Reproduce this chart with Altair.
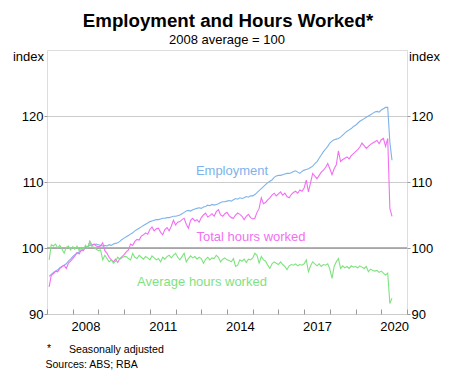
import altair as alt
import pandas as pd

FONT = "Liberation Sans"

series_names = ["Employment", "Total hours worked", "Average hours worked"]
series_colors = ["#7db3ec", "#f26ff2", "#7fe27f"]

start_year = 2007
year_ticks = list(range(2007, 2022))
y_ticks = [90, 100, 110, 120]

employment = [
    95.7, 96.0, 96.3, 96.5, 96.7, 97.0, 97.2, 97.4, 97.6, 98.0, 98.3, 98.7,
    99.0, 99.2, 99.4, 99.6, 99.8, 100.0, 100.2, 100.4, 100.5, 100.5, 100.6, 100.5,
    100.4, 100.3, 100.4, 100.3, 100.5, 100.4, 100.6, 100.7, 100.8, 101.0, 101.3, 101.5,
    101.7, 101.9, 102.1, 102.3, 102.6, 102.8, 103.0, 103.2, 103.4, 103.6, 103.8, 104.0,
    104.1, 104.2, 104.3, 104.3, 104.4, 104.5, 104.5, 104.6, 104.6, 104.7, 104.8, 104.8,
    104.9, 105.0, 105.2, 105.4, 105.6, 105.7, 105.6, 105.8, 105.9, 106.0, 106.1, 106.0,
    106.2, 106.3, 106.5, 106.4, 106.6, 106.5, 106.6, 106.7, 106.9, 107.0, 107.0, 107.1,
    107.2, 107.1, 107.3, 107.5, 107.4, 107.6, 107.5, 107.6, 107.8, 107.7, 107.9, 107.9,
    108.1, 108.4, 108.7, 109.0, 109.3, 109.6, 109.9, 110.1, 110.3, 110.7, 110.9, 111.0,
    111.0, 111.1, 111.2, 111.3, 111.3, 111.4, 111.6, 111.7, 111.5, 111.3, 111.6, 111.8,
    111.9, 112.0, 112.2, 112.4, 112.8, 113.1, 113.6, 114.1, 114.6, 115.0, 115.4, 115.9,
    116.2, 116.4, 116.5, 116.6, 116.8, 117.1, 117.4, 117.7, 117.9, 118.1, 118.4, 118.6,
    118.9, 119.2, 119.4, 119.6, 119.8, 120.0, 120.2, 120.4, 120.6, 120.7, 120.6, 120.9,
    121.1, 121.3, 121.3, 116.0, 113.3,
]

total_hours = [
    94.1, 95.9, 96.1, 96.5, 96.4, 96.9, 97.2, 97.4, 96.9, 97.7, 98.0, 98.4,
    98.8, 99.3, 99.1, 99.7, 99.6, 100.2, 100.1, 101.0, 100.4, 100.6, 100.3, 100.2,
    100.3, 100.8, 99.6, 99.2, 98.6, 98.2, 97.9, 98.3, 97.8, 98.4, 98.7, 99.0,
    99.4, 99.7, 100.6, 100.4, 101.0, 101.3, 101.2, 101.8, 102.0, 102.3, 102.1, 102.8,
    103.2, 102.6, 102.9, 103.0, 102.4, 102.0, 102.8, 103.1, 102.6, 103.3, 104.2, 103.5,
    103.9, 104.0, 104.3, 104.5, 103.6, 103.0, 104.2, 104.5, 104.1, 104.3, 103.9, 104.6,
    105.0, 105.3, 104.7, 104.9, 105.2, 104.8, 105.5, 105.8, 105.0, 104.8, 105.2, 105.4,
    104.9, 104.6, 104.5, 105.0, 105.3, 105.1, 104.8, 104.3, 104.8, 105.1, 104.6, 104.4,
    104.5, 105.4, 106.0, 107.6, 106.7, 106.9, 107.3, 107.6, 108.0, 108.3, 107.9, 108.2,
    108.5, 108.0, 108.3, 107.8, 107.6, 108.1, 108.4, 108.6, 108.3, 108.8, 108.6, 109.1,
    110.3, 108.5, 109.9, 111.3, 110.9, 110.5, 111.0, 111.5, 111.8, 112.2, 112.8, 112.0,
    111.1, 112.0, 112.6, 114.7, 113.1, 113.4, 113.6, 113.8, 113.5, 114.0, 114.3, 114.6,
    114.9, 115.3, 115.9, 115.5, 115.1, 115.4, 115.7, 115.9, 116.1, 116.3, 115.8, 116.4,
    116.6, 115.4, 116.6, 106.0, 104.8,
]

average_hours = [
    98.2, 100.5, 100.3, 100.6, 100.0, 100.4, 99.8, 99.2, 100.1, 100.3, 99.7, 100.2,
    99.8, 100.3, 99.6, 100.1, 99.8, 100.4, 100.0, 101.0, 100.2, 100.1, 99.8, 99.6,
    99.7, 98.2, 98.9, 98.4, 97.9, 98.2, 97.7, 98.0, 98.6, 98.3, 98.5, 98.7,
    98.7, 98.4, 98.2, 99.2, 98.6, 98.4, 98.9, 98.6, 98.3, 98.7, 98.5, 98.2,
    98.8, 98.5, 98.2, 98.4, 97.9, 98.6, 98.3, 98.7, 98.9, 98.5, 98.9, 99.2,
    98.6, 98.2, 98.7, 99.2, 97.9, 98.4, 98.8, 98.5, 98.7, 98.3, 98.6, 98.4,
    97.7, 98.3, 98.6, 98.2, 98.5, 98.4, 98.9, 98.6, 97.9, 98.3, 98.5, 98.2,
    98.1, 97.9, 98.4, 97.2, 97.4, 98.2, 98.0, 98.3, 97.8, 98.3, 98.2, 98.5,
    99.2, 98.9, 97.7, 98.7, 98.2, 98.0, 97.4, 96.9, 97.6, 97.9, 97.7, 97.5,
    97.9, 97.5, 97.2, 96.7, 97.3, 97.5, 97.4, 97.6, 97.3, 97.5, 97.4, 97.6,
    98.2, 96.4, 97.3, 97.9, 97.6, 97.3, 97.6, 97.2, 97.5, 97.4, 97.6, 96.8,
    95.4, 97.2, 97.9, 98.4, 96.9, 97.3, 97.0, 97.2, 96.9, 97.3, 97.1, 97.2,
    97.0, 97.3, 97.1, 96.9, 97.2, 96.4, 96.8, 96.6, 96.5, 96.6, 96.3, 96.5,
    96.2, 95.9, 96.2, 91.6, 92.4,
]

# month-end positions in decimal years
n = len(employment)
times = [start_year + (i + 1) / 12 for i in range(n)]

rows = []
for name, vals in zip(series_names, [employment, total_hours, average_hours]):
    for t, v in zip(times, vals):
        rows.append({"t": t, "v": v, "s": name})
df = pd.DataFrame(rows)

xs = alt.Scale(domain=[2007, 2021], nice=False, zero=False)
ys = alt.Scale(domain=[90, 130], nice=False, zero=False)

label_expr = "((datum.value - 2008) % 3 == 0 && datum.value <= 2020) ? datum.label : ''"

ref = alt.Chart(pd.DataFrame({"v": [100]})).mark_rule(color="#9a9a9a", strokeWidth=1.6).encode(
    y=alt.Y("v:Q", scale=ys, axis=alt.Axis(
        orient="right", values=y_ticks, tickSize=3, tickColor="#9a9a9a", labelPadding=1,
        domain=False, grid=False, title=None, labelFontSize=13, labelColor="#000",
        labelFont=FONT))
)

lines = alt.Chart(df).mark_line(strokeWidth=1.1).encode(
    x=alt.X("t:Q", scale=xs, axis=alt.Axis(
        values=year_ticks, format="d", labelExpr=label_expr, tickSize=5, offset=-5,
        domain=False, grid=False, labelOffset=12.85, labelPadding=6, labelFontSize=13,
        labelFlush=False, labelOverlap=False, tickColor="#9a9a9a", title=None,
        labelColor="#000", labelFont=FONT)),
    y=alt.Y("v:Q", scale=ys, axis=alt.Axis(
        orient="left", values=y_ticks, tickSize=3, tickColor="#9a9a9a", labelPadding=1,
        domain=False, grid=True, gridColor="#cccccc", gridWidth=1, title=None,
        labelFontSize=13, labelColor="#000", labelFont=FONT)),
    color=alt.Color("s:N", scale=alt.Scale(domain=series_names, range=series_colors), legend=None),
)

one = pd.DataFrame({"a": [0]})

def txt(text, x, y, size, color="#000", weight="normal", align="center"):
    return alt.Chart(one).mark_text(
        text=text, font=FONT, fontSize=size, fontWeight=weight, color=color,
        align=align, baseline="middle"
    ).encode(x=alt.value(x), y=alt.value(y))

texts = [
    txt("Employment and Hours Worked*", 181, -29, 18.7, weight="bold"),
    txt("2008 average = 100", 180, -10, 13),
    txt("index", -18.5, 7, 13),
    txt("index", 377.5, 7, 13),
    txt("Employment", 185, 120.5, 13, color=series_colors[0]),
    txt("Total hours worked", 204, 186.5, 13, color=series_colors[1]),
    txt("Average hours worked", 155, 232, 13, color=series_colors[2]),
    txt("*", 0, 299, 10.5, align="left"),
    txt("Seasonally adjusted", 22, 300, 10.6, align="left"),
    txt("Sources: ABS; RBA", -1.5, 315, 10.5, align="left"),
]

chart = alt.layer(ref, lines, *texts).resolve_axis(y="independent").properties(
    width=360, height=264,
    autosize=alt.AutoSizeParams(type="none"),
    padding={"left": 39, "top": 42, "right": 42, "bottom": 62},
).configure_view(stroke="#9a9a9a", strokeWidth=1.6).configure(font=FONT)

chart.save("out.html", embed_options={"renderer": "svg", "actions": False})
